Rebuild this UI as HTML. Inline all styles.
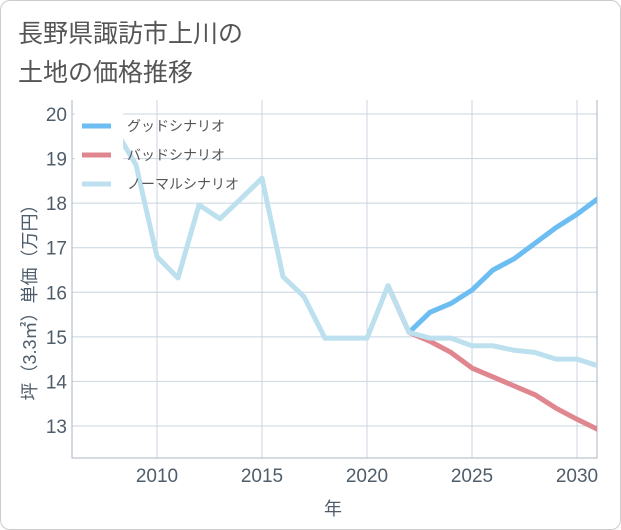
<!DOCTYPE html>
<html><head><meta charset="utf-8"><style>
body{margin:0;background:#fff;}
#card{position:absolute;left:0;top:0;width:619px;height:528px;border:1px solid #ccc;border-radius:10px;background:#fff;overflow:hidden;font-family:"Liberation Sans","Noto Sans CJK JP",sans-serif;}
.t{position:absolute;left:17px;font-size:25px;color:#555;}
</style></head><body>
<div id="card">
<div class="t" style="top:13px">長野県諏訪市上川の</div>
<div class="t" style="top:52px">土地の価格推移</div>
<svg id="c" width="621" height="530" style="position:absolute;left:-1px;top:-1px" font-family="Liberation Sans, Noto Sans CJK JP, sans-serif"></svg>
</div>
<script>
const years=[2008,2009,2010,2011,2012,2013,2014,2015,2016,2017,2018,2019,2020,2021,2022,2023,2024,2025,2026,2027,2028,2029,2030,2031];
const normal=[19.65,18.86,16.8,16.32,17.96,17.65,18.1,18.56,16.35,15.9,14.97,14.97,14.97,16.15,15.1,14.97,14.97,14.8,14.8,14.7,14.65,14.5,14.5,14.35];
const goodYears=[2022,2023,2024,2025,2026,2027,2028,2029,2030,2031];
const good=[15.1,15.55,15.75,16.05,16.5,16.75,17.1,17.45,17.75,18.1];
const badYears=[2021,2022,2023,2024,2025,2026,2027,2028,2029,2030,2031];
const bad=[16.15,15.1,14.9,14.65,14.3,14.1,13.9,13.7,13.4,13.15,12.92];
const xTicks=[2010,2015,2020,2025,2030];
const yTicks=[13,14,15,16,17,18,19,20];
const L=72,R=597,T=100,B=458;
const X=y=>157+(y-2010)*21;
const Y=v=>114+(20-v)*44.57;
const svg=document.getElementById('c');
const NS='http://www.w3.org/2000/svg';
function mk(t,a,p){const e=document.createElementNS(NS,t);for(const k in a)e.setAttribute(k,a[k]);(p||svg).appendChild(e);return e;}
for(const v of yTicks){
 const g=mk('line',{x1:L,x2:R,y1:Y(v),y2:Y(v),stroke:'#c8d4e0','stroke-width':1});
 
 
 const t=mk('text',{x:L-5,y:Y(v)+7,'text-anchor':'end','font-size':19,fill:'#4f5d6b'});t.textContent=v;
 
 
}
for(const y of xTicks){
 const g=mk('line',{x1:X(y),x2:X(y),y1:T,y2:B,stroke:'#c8d4e0','stroke-width':1});
 
 
 const t=mk('text',{x:X(y),y:482,'text-anchor':'middle','font-size':19,fill:'#4f5d6b'});t.textContent=y;
 
 
}
const ax=mk('path',{d:`M${L} ${T}V${B}H${R}V${T}`,fill:'none',stroke:'#aab4c0','stroke-width':1});


function line(xs,vs,col,name){
 const p=mk('polyline',{points:xs.map((y,i)=>X(y)+','+Y(vs[i])).join(' '),fill:'none',stroke:col,'stroke-width':5,'stroke-linejoin':'round'});
 
 
}
const clip=mk('clipPath',{id:'cp'});mk('rect',{x:L,y:T,width:R-L,height:B-T},clip);
line(badYears,bad,'#e0868f','bad-scenario-line');
line(goodYears,good,'#6bbdf2','good-scenario-line');
line(years,normal,'#bde0ee','normal-scenario-line');
document.querySelectorAll('polyline').forEach(p=>p.setAttribute('clip-path','url(#cp)'));
const lg=mk('rect',{x:75,y:108,width:48,height:90,fill:'#fff'});


const items=[['グッドシナリオ','#6bbdf2',126],['バッドシナリオ','#e0868f',155],['ノーマルシナリオ','#bde0ee',184]];
for(const [n,c,y] of items){
 const s=mk('line',{x1:82,x2:111,y1:y,y2:y,stroke:c,'stroke-width':5});
 
 
 const t=mk('text',{x:127,y:y+5,'font-size':14,fill:'#555'});t.textContent=n;
 
 
}
const yl=mk('text',{x:0,y:0,'font-size':18,fill:'#4f5d6b','text-anchor':'middle',transform:'translate(36,298) rotate(-90)'});yl.textContent='坪（3.3㎡）単価（万円）';


const xl=mk('text',{x:333,y:515,'font-size':18,fill:'#4f5d6b','text-anchor':'middle'});xl.textContent='年';


</script>
</body></html>
